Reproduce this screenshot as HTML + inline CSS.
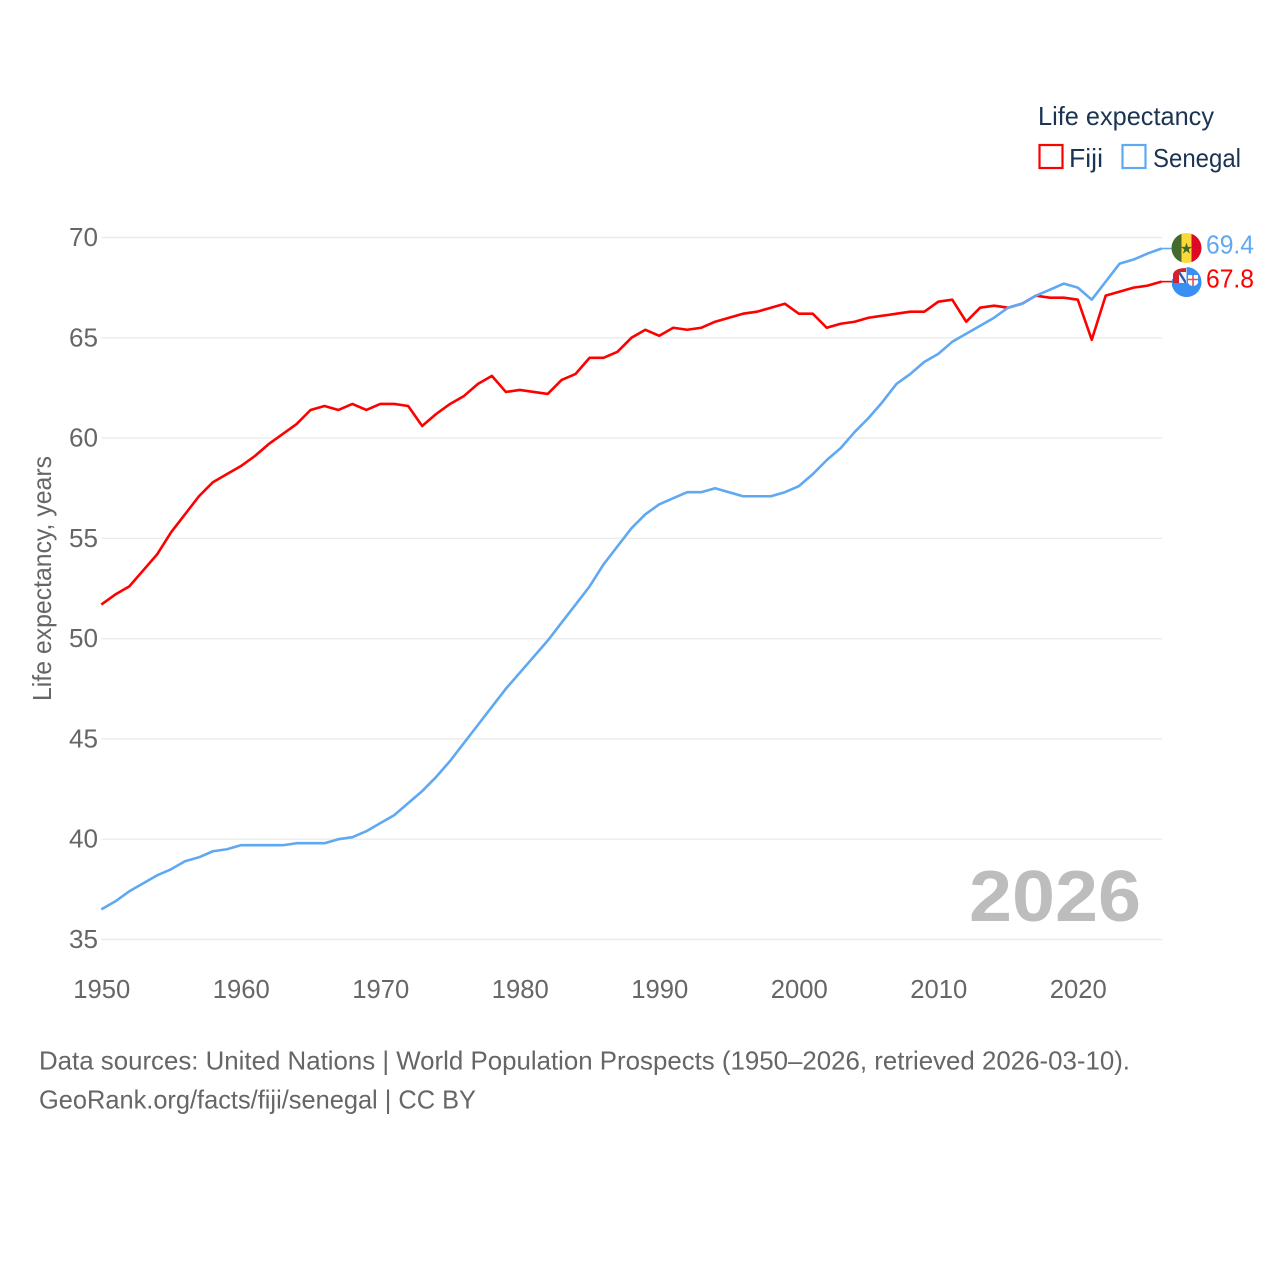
<!DOCTYPE html>
<html lang="en">
<head>
<meta charset="utf-8">
<title>Life expectancy: Fiji and Senegal</title>
<style>
html,body{margin:0;padding:0;background:#fff;width:1280px;height:1280px;overflow:hidden}
svg{display:block}
text{font-family:"Liberation Sans",sans-serif}
</style>
</head>
<body>
<svg id="chart" xmlns="http://www.w3.org/2000/svg" width="1280" height="1280" viewBox="0 0 1280 1280">
  <defs>
    <clipPath id="sen-clip"><circle cx="1186.5" cy="248" r="15"/></clipPath>
    <clipPath id="fiji-clip"><circle cx="1186.5" cy="282" r="15"/></clipPath>
    <clipPath id="uk-clip"><rect x="1179" y="272" width="7" height="11"/></clipPath>
  </defs>
  <rect width="1280" height="1280" fill="#fff"/>
  <g id="grid"></g>
  <g id="yticks"></g>
  <g id="xticks"></g>
  <text transform="translate(51,701) rotate(-90)" font-size="26" fill="#666" textLength="245" lengthAdjust="spacingAndGlyphs">Life expectancy, years</text>
  <text x="969" y="921" font-size="72" font-weight="bold" fill="#bdbdbd" textLength="172" lengthAdjust="spacingAndGlyphs">2026</text>
  <g id="series"></g>

  <g clip-path="url(#sen-clip)">
    <rect x="1171" y="233" width="10.5" height="30" fill="#436b2c"/>
    <rect x="1181.5" y="233" width="10" height="30" fill="#fcd83a"/>
    <rect x="1191.5" y="233" width="11" height="30" fill="#dc0a24"/>
    <text x="1186.5" y="253.5" font-size="15" text-anchor="middle" fill="#3f6b2a" style="font-family:'DejaVu Sans',sans-serif">★</text>
  </g>
  <g>
    <path d="M1186.5 267A15 15 0 1 1 1172 279L1186.5 283Z" fill="#3a8ff2" clip-path="url(#fiji-clip)"/>
    <rect x="1172" y="283" width="30" height="15" fill="#3a8ff2" clip-path="url(#fiji-clip)"/>
    <path d="M1173 283V274Q1175 268 1186 268V283Z" fill="#d6222e"/>
    <rect x="1179" y="272" width="7" height="11" fill="#f4f6fb"/>
    <g clip-path="url(#uk-clip)">
      <path d="M1179 272L1186 283" stroke="#2f5ea8" stroke-width="2.4"/>
    </g>
    <path d="M1188 275H1198V283Q1196 286 1193 286Q1190 286 1188 283Z" fill="#fff"/>
    <path d="M1193 275V286M1188 279.5H1198" stroke="#e0505a" stroke-width="1.6"/>
  </g>

  <text x="1206" y="253.5" font-size="26" fill="#5fa8f2" textLength="48" lengthAdjust="spacingAndGlyphs">69.4</text>
  <text x="1206" y="287.5" font-size="26" fill="#ff0000" textLength="48" lengthAdjust="spacingAndGlyphs">67.8</text>

  <text x="1038" y="125" font-size="26" fill="#1b3454" textLength="176" lengthAdjust="spacingAndGlyphs">Life expectancy</text>
  <g>
    <rect x="1039.5" y="145" width="23" height="23" fill="none" stroke="#ff0000" stroke-width="2.2"/>
    <text x="1069" y="167" font-size="26" fill="#1b3454" textLength="34" lengthAdjust="spacingAndGlyphs">Fiji</text>
  </g>
  <g>
    <rect x="1122.5" y="145" width="23" height="23" fill="none" stroke="#5fa8f2" stroke-width="2.2"/>
    <text x="1153" y="167" font-size="26" fill="#1b3454" textLength="88" lengthAdjust="spacingAndGlyphs">Senegal</text>
  </g>

  <text x="39" y="1069.5" font-size="26" fill="#666" textLength="1091" lengthAdjust="spacingAndGlyphs">Data sources: United Nations | World Population Prospects (1950–2026, retrieved 2026-03-10).</text>
  <text x="39" y="1108.5" font-size="26" fill="#666" textLength="437" lengthAdjust="spacingAndGlyphs">GeoRank.org/facts/fiji/senegal | CC BY</text>
</svg>
<script>
const startYear = 1950;
const fijiValues = [51.7,52.2,52.6,53.4,54.2,55.3,56.2,57.1,57.8,58.2,58.6,59.1,59.7,60.2,60.7,61.4,61.6,61.4,61.7,61.4,61.7,61.7,61.6,60.6,61.2,61.7,62.1,62.7,63.1,62.3,62.4,62.3,62.2,62.9,63.2,64.0,64.0,64.3,65.0,65.4,65.1,65.5,65.4,65.5,65.8,66.0,66.2,66.3,66.5,66.7,66.2,66.2,65.5,65.7,65.8,66.0,66.1,66.2,66.3,66.3,66.8,66.9,65.8,66.5,66.6,66.5,66.7,67.1,67.0,67.0,66.9,64.9,67.1,67.3,67.5,67.6,67.8];
const senegalValues = [36.5,36.9,37.4,37.8,38.2,38.5,38.9,39.1,39.4,39.5,39.7,39.7,39.7,39.7,39.8,39.8,39.8,40.0,40.1,40.4,40.8,41.2,41.8,42.4,43.1,43.9,44.8,45.7,46.6,47.5,48.3,49.1,49.9,50.8,51.7,52.6,53.7,54.6,55.5,56.2,56.7,57.0,57.3,57.3,57.5,57.3,57.1,57.1,57.1,57.3,57.6,58.2,58.9,59.5,60.3,61.0,61.8,62.7,63.2,63.8,64.2,64.8,65.2,65.6,66.0,66.5,66.7,67.1,67.4,67.7,67.5,66.9,67.8,68.7,68.9,69.2,69.45];
const yTickLabels = [35,40,45,50,55,60,65,70];
const xTickLabels = [1950,1960,1970,1980,1990,2000,2010,2020];

const NS = 'http://www.w3.org/2000/svg';
function xScale(year){ return 101.3 + (year - 1950) * (1161.5 - 101.3) / 76; }
function yScale(value){ return 939.5 - (value - 35) * (939.5 - 237.5) / 35; }

const gridGroup = document.getElementById('grid');
const yGroup = document.getElementById('yticks');
const xGroup = document.getElementById('xticks');
const seriesGroup = document.getElementById('series');

yTickLabels.forEach(function(v){
  const line = document.createElementNS(NS,'line');
  
  
  line.setAttribute('x1', 101.5);
  line.setAttribute('x2', 1162);
  line.setAttribute('y1', yScale(v));
  line.setAttribute('y2', yScale(v));
  line.setAttribute('stroke', '#ebebeb');
  line.setAttribute('stroke-width', '1.4');
  gridGroup.appendChild(line);

  const t = document.createElementNS(NS,'text');
  
  
  t.setAttribute('x', 69);
  t.setAttribute('y', yScale(v) + 8.5);
  t.setAttribute('font-size', '26');
  t.setAttribute('fill', '#666');
  t.setAttribute('textLength', '29');
  t.setAttribute('lengthAdjust', 'spacingAndGlyphs');
  t.textContent = v;
  yGroup.appendChild(t);
});

xTickLabels.forEach(function(y){
  const t = document.createElementNS(NS,'text');
  
  
  t.setAttribute('x', xScale(y) - 28);
  t.setAttribute('y', 998);
  t.setAttribute('font-size', '26');
  t.setAttribute('fill', '#666');
  t.setAttribute('textLength', '57');
  t.setAttribute('lengthAdjust', 'spacingAndGlyphs');
  t.textContent = y;
  xGroup.appendChild(t);
});

function pathFor(values){
  return values.map(function(v,i){
    return (i ? 'L' : 'M') + xScale(startYear + i).toFixed(2) + ' ' + yScale(v).toFixed(2);
  }).join('');
}

const fijiLine = document.createElementNS(NS,'path');


fijiLine.setAttribute('d', pathFor(fijiValues));
fijiLine.setAttribute('fill', 'none');
fijiLine.setAttribute('stroke', '#ff0000');
fijiLine.setAttribute('stroke-width', '2.6');
fijiLine.setAttribute('stroke-linejoin', 'round');
seriesGroup.appendChild(fijiLine);

const senegalLine = document.createElementNS(NS,'path');


senegalLine.setAttribute('d', pathFor(senegalValues));
senegalLine.setAttribute('fill', 'none');
senegalLine.setAttribute('stroke', '#5fa8f2');
senegalLine.setAttribute('stroke-width', '2.6');
senegalLine.setAttribute('stroke-linejoin', 'round');
seriesGroup.appendChild(senegalLine);

const lastYear = startYear + fijiValues.length - 1;

const fijiConnector = document.createElementNS(NS,'line');


fijiConnector.setAttribute('x1', xScale(lastYear));
fijiConnector.setAttribute('x2', xScale(lastYear) + 11);
fijiConnector.setAttribute('y1', yScale(fijiValues[fijiValues.length - 1]));
fijiConnector.setAttribute('y2', yScale(fijiValues[fijiValues.length - 1]));
fijiConnector.setAttribute('stroke', '#ff0000');
fijiConnector.setAttribute('stroke-width', '1.6');
seriesGroup.appendChild(fijiConnector);

const senegalConnector = document.createElementNS(NS,'line');


senegalConnector.setAttribute('x1', xScale(lastYear));
senegalConnector.setAttribute('x2', xScale(lastYear) + 11);
senegalConnector.setAttribute('y1', yScale(senegalValues[senegalValues.length - 1]));
senegalConnector.setAttribute('y2', yScale(senegalValues[senegalValues.length - 1]));
senegalConnector.setAttribute('stroke', '#5fa8f2');
senegalConnector.setAttribute('stroke-width', '1.6');
seriesGroup.appendChild(senegalConnector);
</script>
</body>
</html>
